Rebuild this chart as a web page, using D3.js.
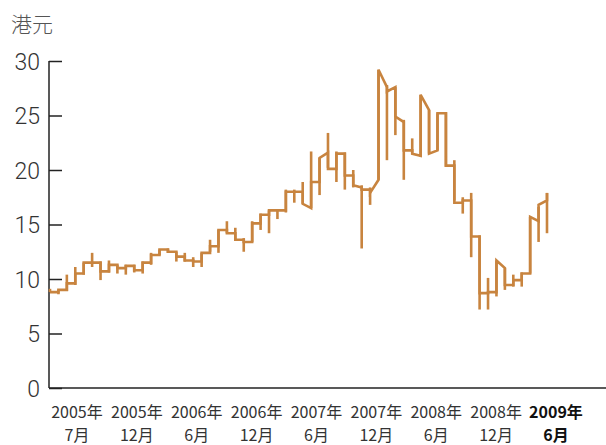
<!DOCTYPE html>
<html><head><meta charset="utf-8">
<script src="https://cdn.jsdelivr.net/npm/d3@7"></script>
<style>body{margin:0;background:#fff}</style>
</head><body>
<svg id="c" width="606" height="445"></svg>
<script>
// price per period (港元): level on arrival, closing level, low and high
const closes = [8.8,9.0,9.6,10.5,11.5,11.5,10.7,11.3,11.0,11.2,10.8,11.5,12.2,12.7,12.5,12.05,11.7,11.6,12.4,13.0,
  14.5,14.2,13.6,13.4,15.1,15.9,16.3,16.3,18.0,18.0,16.9,18.9,21.1,20.1,21.5,19.5,18.6,18.2,17.9,29.2,
  27.2,24.9,21.8,21.5,26.9,21.5,25.2,20.4,17.0,17.2,13.9,8.7,8.8,11.7,9.45,9.9,10.5,15.7,16.8,17.9];
const arrivals = [8.8,8.8,9.0,9.6,10.5,11.5,11.5,10.7,11.3,11.0,11.2,10.8,11.5,12.2,12.7,12.5,12.05,11.7,11.6,12.4,
  13.0,14.5,14.2,13.6,13.4,15.1,15.9,16.3,16.3,18.0,18.0,16.5,18.9,21.6,20.1,21.5,19.5,18.4,18.2,19.1,
  27.6,27.6,24.4,21.8,21.3,25.5,21.8,25.2,20.4,17.0,17.2,13.9,8.7,8.8,11.0,9.45,9.9,10.5,15.3,17.2];
const lows = [8.8,8.6,8.9,9.45,10.4,11.1,9.9,10.6,10.5,10.4,10.6,10.5,11.3,12.2,12.4,11.6,11.6,11.1,11.1,12.5,
  12.4,14.2,13.6,12.5,13.4,14.5,14.2,15.5,16.1,17.0,16.9,16.5,17.7,20.2,18.9,18.2,18.4,12.8,16.8,19.1,
  20.9,23.2,19.1,21.6,21.2,21.5,21.8,20.3,17.2,16.0,12.0,7.2,7.2,8.4,9.0,9.3,9.3,10.5,13.4,14.2];
const highs = [9.1,9.0,10.4,11.1,11.5,12.4,11.6,11.7,11.3,11.3,11.3,11.6,12.4,12.7,12.8,12.5,12.4,12.0,12.4,13.6,
  14.5,15.3,14.7,13.75,15.3,16.0,16.3,16.3,18.2,18.2,18.9,21.7,21.1,23.4,21.7,21.6,20.0,18.6,18.4,29.2,
  27.8,27.6,24.6,22.9,26.9,25.5,25.2,25.3,20.9,17.5,17.9,14.0,10.1,11.7,11.0,10.4,10.6,15.7,16.6,17.9];
const yTicks = [0,5,10,15,20,25,30];
const xLabelYears = ["2005年","2005年","2006年","2006年","2007年","2007年","2008年","2008年","2009年"];
const xLabelMonths = ["7月","12月","6月","12月","6月","12月","6月","12月","6月"];
const yUnit = "港元";

const svg = d3.select("#c");
const x = d3.scaleLinear().domain([0, closes.length - 1]).range([50, 547]);
const y = d3.scaleLinear().domain([0, 30]).range([388, 61]);
const color = "#c8843f";

// y axis
const yAxis = d3.axisLeft(y).tickValues(yTicks).tickSize(-13).tickPadding(22);
const gy = svg.append("g").attr("transform", "translate(49,0)").call(yAxis);
gy.select(".domain").attr("stroke", "#222").attr("stroke-width", 1.5).attr("d", `M0,${y(30)}V${y(0)}`);
gy.selectAll(".tick line").attr("stroke", "#222").attr("stroke-width", 1.5);
gy.selectAll(".tick text").attr("font-family", "Roboto, Liberation Sans, sans-serif").attr("font-weight", 300)
  .attr("font-size", 23).attr("fill", "#333").attr("text-anchor", "end").attr("dx", 13).attr("dy", "0.35em");

// x axis line
svg.append("line").attr("x1", 49).attr("x2", 606).attr("y1", y(0)).attr("y2", y(0))
  .attr("stroke", "#222").attr("stroke-width", 1.5);

// unit
svg.append("text").attr("x", 11).attr("y", 32).text(yUnit)
  .attr("font-family", "Noto Sans CJK SC, sans-serif").attr("font-weight", 300)
  .attr("font-size", 21).attr("fill", "#555");

// x labels
const xl = d3.scalePoint().domain(d3.range(xLabelYears.length)).range([77, 556]);
const lab = svg.append("g").selectAll("text").data(xLabelYears).join("text")
  .attr("x", (d, i) => xl(i)).attr("text-anchor", "middle")
  .attr("font-family", "Liberation Sans Narrow, Noto Sans CJK SC, sans-serif")
  .attr("font-size", 16).attr("fill", (d, i) => i === xLabelYears.length - 1 ? "#111" : "#333")
  .attr("font-weight", (d, i) => i === xLabelYears.length - 1 ? "bold" : "normal");
lab.append("tspan").attr("x", (d, i) => xl(i)).attr("y", 418).text(d => d);
lab.append("tspan").attr("x", (d, i) => xl(i)).attr("y", 441).text((d, i) => xLabelMonths[i]);

// price line
const g = svg.append("g").attr("fill", "none").attr("stroke", color).attr("stroke-width", 2.6)
  .attr("stroke-linejoin", "miter");
const pts = closes.flatMap((c, i) => [[i, arrivals[i]], [i, c]]);
const line = d3.line().x(d => x(d[0])).y(d => y(d[1]));
g.append("path").attr("d", line(pts));
g.selectAll("line").data(closes).join("line")
  .attr("x1", (d, i) => x(i)).attr("x2", (d, i) => x(i))
  .attr("y1", (d, i) => y(lows[i])).attr("y2", (d, i) => y(highs[i]));
</script>
</body></html>
